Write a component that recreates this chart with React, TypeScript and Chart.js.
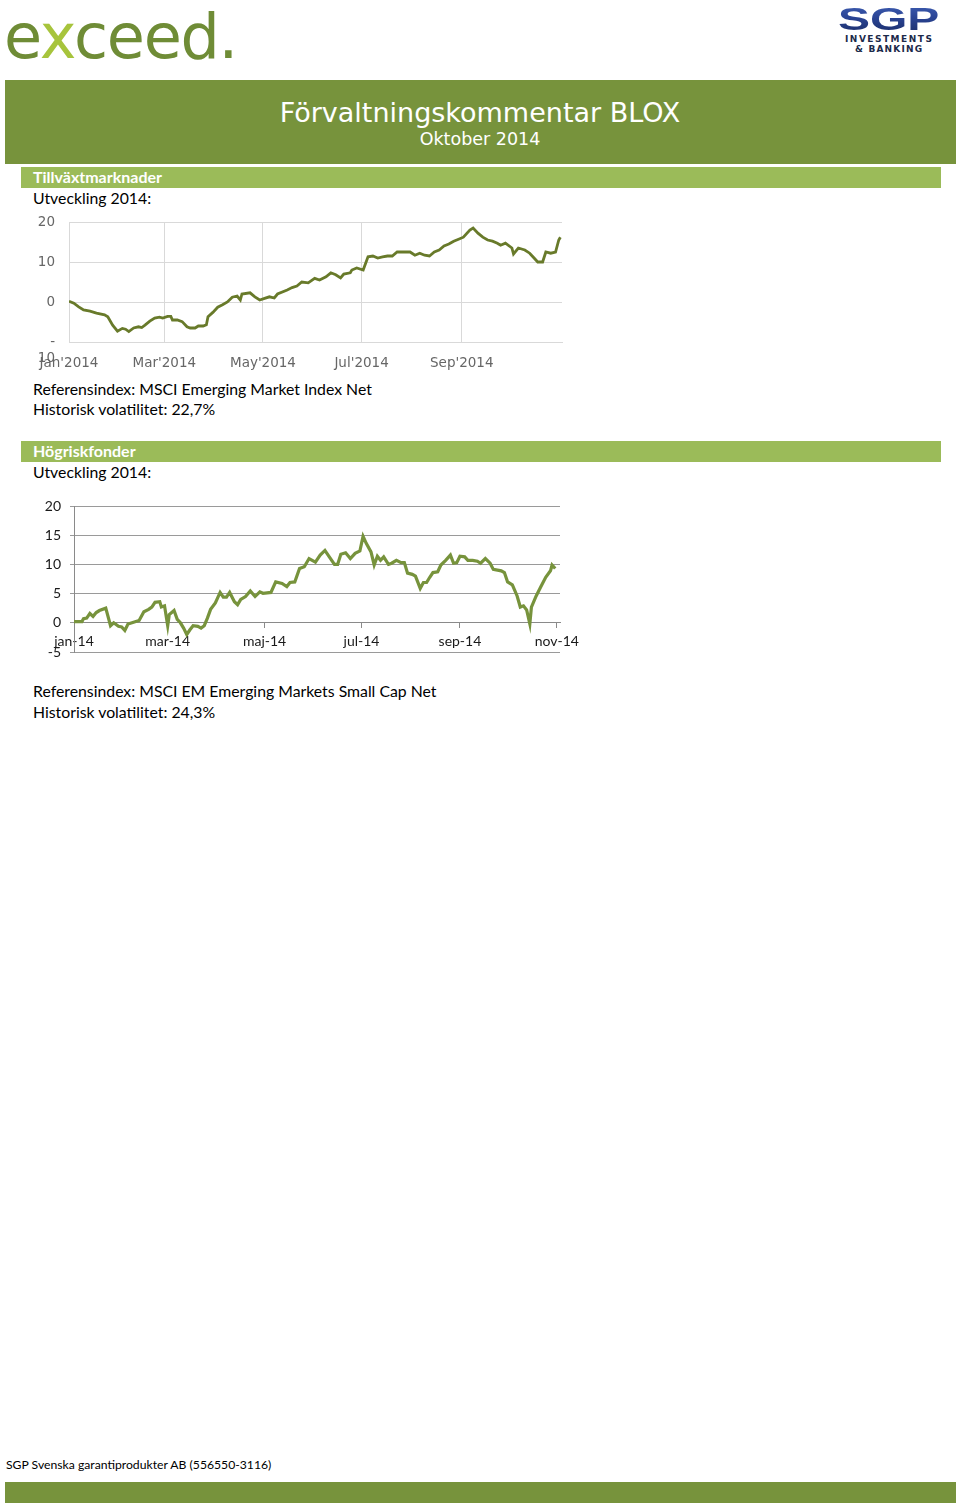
import React, { useEffect, useRef } from "react";
import { Chart, registerables } from "chart.js";

Chart.register(...registerables);

// ---- Chart 1: Tillväxtmarknader (MSCI Emerging Market Index Net), % development 2014 ----
const emTickDays = [0, 59, 120, 181, 243];
const emTickLabels = ["Jan'2014", "Mar'2014", "May'2014", "Jul'2014", "Sep'2014"];
const emYTicks = [-10, 0, 10, 20];
const emDays = [
  0, 3, 6, 9, 13, 17, 22, 24, 27, 30, 33, 35, 37, 40, 43, 45, 47, 50, 53, 56, 58, 61, 63, 64, 67, 70,
  73, 75, 78, 80, 83, 85, 86, 89, 92, 95, 98, 101, 104, 106, 107, 112, 115, 118, 121, 124, 127, 129,
  135, 138, 141, 144, 148, 152, 155, 159, 162, 165, 168, 170, 174, 175, 178, 182, 185, 188, 191, 194,
  197, 200, 203, 207, 211, 214, 217, 220, 223, 226, 229, 232, 235, 238, 241, 244, 248, 250, 253, 256,
  259, 262, 265, 267, 270, 274, 275, 278, 282, 285, 287, 290, 293, 295, 298, 301, 303, 304,
];
const emValues = [
  0.2, -0.3, -1.2, -2, -2.3, -2.8, -3.2, -3.7, -5.8, -7.3, -6.6, -6.8, -7.4, -6.5, -6.2, -6.4, -5.8,
  -4.8, -4, -3.8, -4, -3.6, -3.6, -4.5, -4.5, -4.9, -6.2, -6.5, -6.5, -6, -6, -5.7, -3.7, -2.6, -1.3,
  -0.7, 0, 1.2, 1.5, 0.5, 2, 2.3, 1.3, 0.5, 0.9, 1.3, 1, 2, 3, 3.6, 4, 5, 4.8, 5.9, 5.5, 6.3, 7.3, 6.8,
  6, 7, 7.3, 8, 8.5, 8, 11.3, 11.5, 11, 11.3, 11.5, 11.5, 12.5, 12.5, 12.5, 11.7, 12.2, 11.7, 11.5,
  12.5, 13, 14, 14.5, 15.2, 15.7, 16.2, 18, 18.5, 17.2, 16.2, 15.5, 15.2, 14.7, 14.2, 14.7, 13.5, 12,
  13.5, 13, 12.2, 11.3, 10, 10, 12.5, 12.2, 12.5, 15.5, 16.2,
];

// ---- Chart 2: Högriskfonder (MSCI EM Emerging Markets Small Cap Net) ----
const hfTickDays = [0, 59, 120, 181, 243, 304];
const hfTickLabels = ["jan-14", "mar-14", "maj-14", "jul-14", "sep-14", "nov-14"];
const hfDays = [
  0, 5, 6, 8, 10, 12, 14, 16, 20, 23, 25, 28, 30, 32, 34, 37, 41, 44, 47, 49, 51, 54, 55, 57, 59, 60,
  63, 65, 67, 69, 71, 73, 75, 78, 80, 82, 84, 86, 89, 92, 94, 96, 98, 101, 103, 105, 108, 111, 114,
  117, 119, 124, 127, 131, 134, 136, 139, 142, 145, 148, 152, 155, 158, 160, 164, 166, 168, 171, 174,
  177, 180, 182, 184, 187, 189, 191, 193, 195, 198, 200, 203, 206, 208, 210, 213, 215, 218, 220, 222,
  224, 226, 229, 231, 234, 237, 239, 241, 243, 246, 248, 251, 254, 256, 259, 262, 264, 269, 271, 273,
  276, 279, 281, 283, 285, 287, 288, 291, 294, 297, 300, 301, 303,
];
const hfValues = [
  0.2, 0.2, 0.7, 0.8, 1.6, 1.1, 1.75, 2.1, 2.5, -0.5, 0, -0.6, -0.7, -1.3, -0.2, 0.05, 0.4, 1.9, 2.3,
  2.7, 3.5, 3.6, 2.7, 2.9, -0.5, 1.4, 2.1, 0.6, 0, -0.9, -2, -1.2, -0.5, -0.6, -0.9, -0.5, 0.8, 2.3,
  3.4, 5.2, 4.4, 4.4, 5.2, 3.6, 3.1, 4, 4.5, 5.45, 4.5, 5.3, 5.05, 5.2, 7, 6.75, 6.2, 6.9, 7, 9.3, 9.6,
  11, 10.4, 11.6, 12.4, 11.6, 10, 10, 11.75, 12, 11, 11.9, 12.3, 14.8, 13.6, 12.15, 9.9, 11.4, 10.7,
  11.3, 10, 10.2, 10.7, 10.3, 10.3, 8.5, 8.3, 8, 5.9, 6.9, 6.9, 7.8, 8.6, 8.75, 9.9, 10.7, 11.6, 10.2,
  10.3, 11.4, 11.3, 10.7, 10.7, 10.55, 10.2, 11, 10.2, 9.15, 8.9, 8.6, 7, 6.5, 4.6, 2.7, 2.9, 2.2,
  -0.2, 2.7, 4.6, 6.2, 7.8, 8.9, 9.9, 9.3,
];

const BODY_FONT = "Lato, 'Open Sans', sans-serif";

function zeroPad(s: any) {
  s.paddingLeft = 0;
  s.paddingRight = 0;
  s.paddingTop = 0;
  s.paddingBottom = 0;
}

function EmChart() {
  const ref = useRef<HTMLCanvasElement | null>(null);
  useEffect(() => {
    if (!ref.current) return;
    const grid = "#d9d9d9";
    const tickFont = { family: "'DejaVu Sans', Verdana, sans-serif", size: 13.5 };
    const chart = new Chart(ref.current, {
      type: "line",
      data: {
        datasets: [
          {
            data: emDays.map((d, i) => ({ x: d, y: emValues[i] })),
            borderColor: "#687a2a",
            borderWidth: 2.8,
            pointRadius: 0,
            tension: 0,
            fill: false,
          },
        ],
      },
      options: {
        animation: false,
        responsive: false,
        events: [],
        layout: { padding: { top: 17, right: 11, left: 0, bottom: 0 } },
        plugins: { legend: { display: false }, tooltip: { enabled: false } },
        scales: {
          x: {
            type: "linear",
            min: 0,
            max: 305,
            afterBuildTicks: (s: any) => {
              s.ticks = emTickDays.map((v) => ({ value: v }));
            },
            afterFit: (s: any) => {
              s.height = 35;
              zeroPad(s);
            },
            ticks: {
              autoSkip: false,
              maxRotation: 0,
              padding: 13,
              color: "#666666",
              font: tickFont,
              callback: (v: any) => emTickLabels[emTickDays.indexOf(Number(v))] ?? "",
            },
            grid: { color: grid, drawTicks: false },
            border: { display: true, color: grid },
          },
          y: {
            min: -10,
            max: 20,
            afterBuildTicks: (s: any) => {
              s.ticks = emYTicks.map((v) => ({ value: v }));
            },
            afterFit: (s: any) => {
              s.width = 36;
              zeroPad(s);
            },
            ticks: {
              autoSkip: false,
              padding: 14,
              color: "#666666",
              font: tickFont,
              callback: (v: any) => (Number(v) === -10 ? ["", "-", "10"] : String(v)),
            },
            grid: { color: grid, drawTicks: false },
            border: { display: false },
          },
        },
      },
    } as any);
    return () => chart.destroy();
  }, []);
  return (
    <canvas
      ref={ref}
      width={540}
      height={172}
      style={{ position: "absolute", left: 33, top: 205, width: 540, height: 172 }}
    />
  );
}

function HfChart() {
  const ref = useRef<HTMLCanvasElement | null>(null);
  useEffect(() => {
    if (!ref.current) return;
    const grid = "#9a9a9a";
    const tickFont = { family: BODY_FONT, size: 14 };
    const chart = new Chart(ref.current, {
      type: "line",
      data: {
        datasets: [
          {
            data: hfDays.map((d, i) => ({ x: d, y: hfValues[i] })),
            borderColor: "#77933c",
            borderWidth: 3.2,
            pointRadius: 0,
            tension: 0,
            fill: false,
          },
        ],
      },
      options: {
        animation: false,
        responsive: false,
        events: [],
        layout: { padding: { top: 11, right: 38, left: 0, bottom: 18 } },
        plugins: { legend: { display: false }, tooltip: { enabled: false } },
        scales: {
          x: {
            type: "linear",
            min: 0,
            max: 306,
            position: { y: 0 },
            afterBuildTicks: (s: any) => {
              s.ticks = hfTickDays.map((v) => ({ value: v }));
            },
            afterFit: (s: any) => {
              zeroPad(s);
            },
            ticks: {
              autoSkip: false,
              maxRotation: 0,
              padding: 5,
              color: "#1a1a1a",
              font: tickFont,
              callback: (v: any) => hfTickLabels[hfTickDays.indexOf(Number(v))] ?? "",
            },
            grid: { drawOnChartArea: false, drawTicks: true, tickLength: 5, color: "#8a8a8a" },
            border: { display: true, color: "#8a8a8a" },
          },
          y: {
            min: -5,
            max: 20,
            afterFit: (s: any) => {
              s.width = 41;
              zeroPad(s);
            },
            ticks: { stepSize: 5, autoSkip: false, padding: 9, color: "#1a1a1a", font: tickFont },
            grid: { color: grid, drawTicks: true, tickLength: 4 },
            border: { display: true, color: "#8a8a8a" },
          },
        },
      },
    } as any);
    return () => chart.destroy();
  }, []);
  return (
    <canvas
      ref={ref}
      width={565}
      height={175}
      style={{ position: "absolute", left: 33, top: 495, width: 565, height: 175 }}
    />
  );
}

function Txt(props: {
  x: number;
  y: number;
  size: number;
  children: React.ReactNode;
  color?: string;
  bold?: boolean;
  family?: string;
  center?: boolean;
}) {
  const lh = Math.round(props.size * 1.25);
  const style: React.CSSProperties = {
    position: "absolute",
    top: props.y - lh / 2,
    fontSize: props.size,
    lineHeight: lh + "px",
    fontFamily: props.family ?? BODY_FONT,
    fontWeight: props.bold ? 700 : 400,
    color: props.color ?? "#000",
    whiteSpace: "nowrap",
  };
  if (props.center) {
    style.left = 0;
    style.width = 960;
    style.textAlign = "center";
  } else {
    style.left = props.x;
  }
  return <div style={style}>{props.children}</div>;
}

export default function App() {
  const olive = "#77933c";
  const light = "#9bbb59";
  return (
    <div
      style={{
        position: "absolute",
        left: 0,
        top: 0,
        width: 960,
        height: 1509,
        background: "#fff",
        overflow: "hidden",
      }}
    >
      {/* exceed. logo */}
      <div
        style={{
          position: "absolute",
          left: 4,
          top: 1,
          fontFamily: "'DejaVu Sans', sans-serif",
          fontSize: 62,
          lineHeight: "72px",
          letterSpacing: -1.3,
          color: "#6f8c36",
          whiteSpace: "nowrap",
        }}
      >
        e<span style={{ color: "#a7c43c" }}>x</span>ceed.
      </div>
      {/* SGP logo */}
      <div
        style={{
          position: "absolute",
          left: 838,
          top: 0.5,
          fontFamily: "'Liberation Sans', sans-serif",
          fontWeight: 700,
          fontSize: 32,
          lineHeight: "normal",
          background: "linear-gradient(180deg, #4262b8 0%, #2a4494 45%, #17285f 100%)",
          WebkitBackgroundClip: "text",
          backgroundClip: "text",
          color: "transparent",
          transform: "scaleX(1.5)",
          transformOrigin: "left top",
          whiteSpace: "nowrap",
        }}
      >
        SGP
      </div>
      <div
        style={{
          position: "absolute",
          left: 845,
          top: 34,
          fontFamily: "'DejaVu Sans', sans-serif",
          fontWeight: 700,
          fontSize: 9,
          lineHeight: "normal",
          letterSpacing: 1.5,
          color: "#1c2a4a",
          whiteSpace: "nowrap",
        }}
      >
        INVESTMENTS
      </div>
      <div
        style={{
          position: "absolute",
          left: 855,
          top: 43.5,
          fontFamily: "'DejaVu Sans', sans-serif",
          fontWeight: 700,
          fontSize: 9,
          lineHeight: "normal",
          letterSpacing: 1.2,
          color: "#1c2a4a",
          whiteSpace: "nowrap",
        }}
      >
        &amp; BANKING
      </div>

      {/* header band */}
      <div style={{ position: "absolute", left: 5, top: 80, width: 951, height: 84, background: olive }} />
      <Txt x={0} y={113} size={27} color="#fff" family="'DejaVu Sans', Verdana, sans-serif" center>
        Förvaltningskommentar BLOX
      </Txt>
      <Txt x={0} y={139} size={17.5} color="#fff" family="'DejaVu Sans', Verdana, sans-serif" center>
        Oktober 2014
      </Txt>

      {/* section 1 */}
      <div style={{ position: "absolute", left: 21, top: 167, width: 920, height: 21, background: light }} />
      <Txt x={33} y={177} size={16} color="#fff" bold>
        Tillväxtmarknader
      </Txt>
      <Txt x={33} y={198} size={15.8}>
        Utveckling 2014:
      </Txt>
      <EmChart />
      <Txt x={33} y={389} size={15.8}>
        Referensindex: MSCI Emerging Market Index Net
      </Txt>
      <Txt x={33} y={409} size={15.8}>
        Historisk volatilitet: 22,7%
      </Txt>

      {/* section 2 */}
      <div style={{ position: "absolute", left: 21, top: 441, width: 920, height: 21, background: light }} />
      <Txt x={33} y={451} size={16} color="#fff" bold>
        Högriskfonder
      </Txt>
      <Txt x={33} y={472} size={15.8}>
        Utveckling 2014:
      </Txt>
      <HfChart />
      <Txt x={33} y={691} size={15.8}>
        Referensindex: MSCI EM Emerging Markets Small Cap Net
      </Txt>
      <Txt x={33} y={712} size={15.8}>
        Historisk volatilitet: 24,3%
      </Txt>

      {/* footer */}
      <Txt x={6} y={1464} size={12.2}>
        SGP Svenska garantiprodukter AB (556550-3116)
      </Txt>
      <div style={{ position: "absolute", left: 5, top: 1482, width: 951, height: 21, background: olive }} />
    </div>
  );
}
